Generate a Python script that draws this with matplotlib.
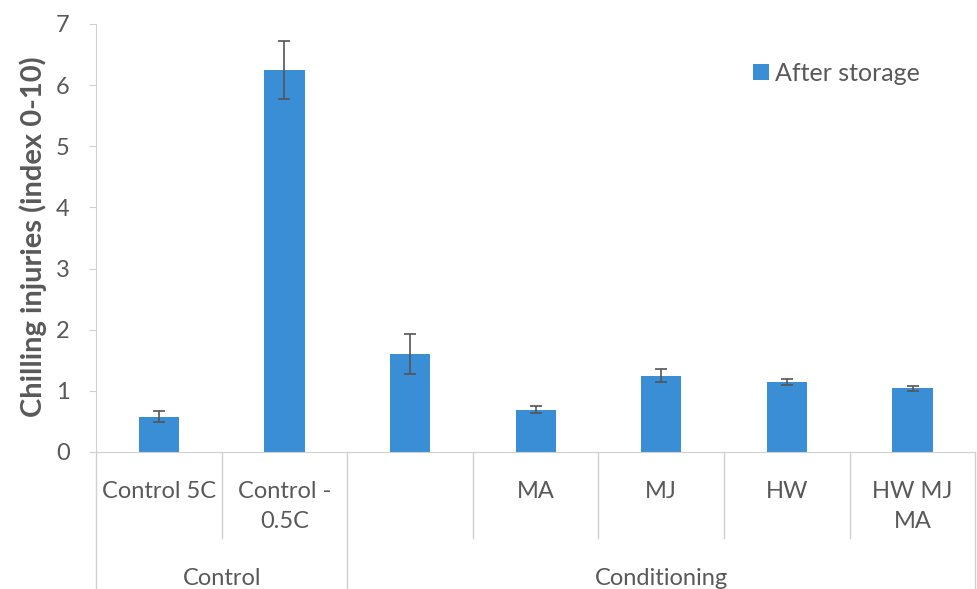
import numpy as np
import matplotlib.pyplot as plt
from matplotlib.lines import Line2D

plt.rcParams['font.family'] = ['Lato', 'DejaVu Sans']

# Chilling injury index after storage
treatments = ["Control 5C", "Control -\n0.5C", "", "MA", "MJ", "HW", "HW MJ\nMA"]
after_storage = [0.58, 6.25, 1.60, 0.69, 1.25, 1.15, 1.04]
errors = [0.09, 0.47, 0.33, 0.06, 0.10, 0.05, 0.04]
groups = ["Control", "Conditioning"]
group_sizes = [2, 5]

bar_color = '#3a8ed6'
text_color = '#595959'
line_color = '#d0d0d0'

fig = plt.figure(figsize=(9.77, 5.89), dpi=100)
ax = fig.add_axes([0.0983, 0.2326, 0.9, 0.7267])

x = np.arange(len(treatments))
ax.bar(x, after_storage, width=0.32, color=bar_color, label="After storage", zorder=2)
ax.errorbar(x, after_storage, yerr=errors, fmt='none', ecolor='#555555',
            elinewidth=1.2, capsize=4, capthick=1.2, zorder=3)

ax.set_xlim(-0.5, len(treatments) - 0.5)
ax.set_ylim(0, 7)
ax.set_yticks(range(0, 8))
ax.tick_params(axis='y', labelsize=17, colors=text_color, length=5, color=line_color, pad=14)
ax.set_xticks([])

for side in ['top', 'right']:
    ax.spines[side].set_visible(False)
ax.spines['left'].set_color(line_color)
ax.spines['bottom'].set_color(line_color)

ax.set_ylabel("Chilling injuries (index 0-10)", fontsize=21, fontweight='bold',
              color=text_color)
ax.yaxis.set_label_coords(-0.056, 0.502)

# Two-level category axis below the plot
trans = ax.get_xaxis_transform()
for i, name in enumerate(treatments):
    ax.text(i, -0.068, name, transform=trans, ha='center', va='top',
            fontsize=17, color=text_color, linespacing=1.55)

# inner separators
for b in range(1, len(treatments)):
    if b == group_sizes[0]:
        continue
    ax.add_line(Line2D([b - 0.5, b - 0.5], [0, -0.2], transform=trans,
                       color=line_color, lw=1, clip_on=False))

# group separators and labels
edges = np.concatenate([[0], np.cumsum(group_sizes)]) - 0.5
for e in edges:
    ax.add_line(Line2D([e, e], [0, -0.33], transform=trans,
                       color=line_color, lw=1, clip_on=False))
for g, lo, hi in zip(groups, edges[:-1], edges[1:]):
    ax.text((lo + hi) / 2, -0.272, g, transform=trans, ha='center', va='top',
            fontsize=17, color=text_color)

leg = ax.legend(loc='upper right', bbox_to_anchor=(0.937, 0.912), frameon=False,
                borderaxespad=0, borderpad=0, fontsize=18, handlelength=0.65,
                handleheight=0.65, handletextpad=0.25)
for t in leg.get_texts():
    t.set_color(text_color)

fig.savefig("out.png", dpi=100)
